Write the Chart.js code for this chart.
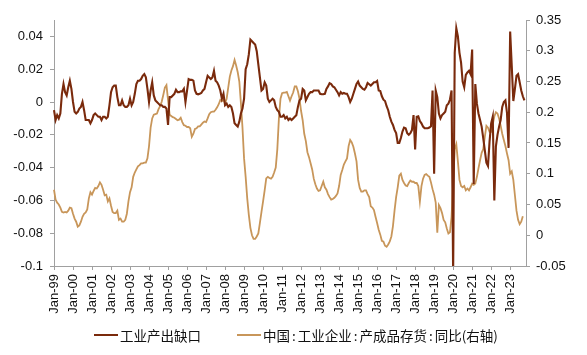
<!DOCTYPE html>
<html><head><meta charset="utf-8">
<script src="https://cdn.jsdelivr.net/npm/chart.js@4"></script>
<style>
html,body{margin:0;padding:0;background:#fff;}
#wrap{position:relative;width:587px;height:355px;overflow:hidden;}
canvas{position:absolute;left:0;top:0;}
.lg{position:absolute;top:327px;height:16px;font:13.5px "Noto Sans CJK SC",sans-serif;color:#111;display:flex;align-items:center;white-space:nowrap;}
.sw{display:inline-block;width:24px;height:2px;margin-right:2px;}
.c{margin:0 2px;}
</style></head>
<body><div id="wrap"><canvas id="c" width="587" height="355"></canvas>
<div class="lg" style="left:94px"><span class="sw" style="background:#7a2a0c"></span>工业产出缺口</div>
<div class="lg" style="left:237px"><span class="sw" style="background:#c8965a"></span>中国<span class="c">:</span>工业企业<span class="c">:</span>产成品存货<span class="c">:</span>同比(右轴)</div>
</div>
<script>
// Output gap (left axis), monthly from Jan-99
const outputGap = [
 -0.005,-0.011,-0.008,-0.01,-0.007,0.005,0.011,0.006,0.004,0.009,0.013,0.008,
 0.0,-0.006,-0.007,-0.006,-0.004,-0.003,0.0,-0.005,-0.011,-0.011,-0.011,-0.013,
 -0.011,-0.008,-0.007,-0.008,-0.009,-0.009,-0.011,-0.009,-0.009,-0.01,-0.009,-0.002,
 0.006,0.009,0.01,0.01,0.003,-0.002,-0.002,0.001,-0.002,-0.003,-0.003,-0.002,
 0.002,-0.002,0.0,0.005,0.011,0.013,0.013,0.014,0.016,0.017,0.015,0.008,
 0.0,0.007,0.012,0.004,0.001,0.0,-0.001,-0.002,-0.002,-0.003,-0.003,-0.004,
 -0.014,0.003,0.003,0.004,0.005,0.0075,0.006,0.006,0.0065,0.0065,0.008,0.0,
 0.007,0.014,0.0135,0.0135,0.013,0.007,0.005,0.0047,0.005,0.0055,0.007,0.008,
 0.012,0.016,0.015,0.014,0.015,0.019,0.013,0.012,0.01,0.007,0.002,0.005,
 -0.002,-0.001,-0.003,-0.002,-0.003,-0.007,-0.013,-0.014,-0.015,-0.012,-0.007,-0.004,
 0.002,0.02,0.023,0.029,0.038,0.037,0.036,0.035,0.031,0.023,0.015,0.007,
 0.008,0.012,0.01,0.002,0.0,0.001,0.002,0.001,-0.003,-0.005,-0.006,-0.009,
 -0.009,-0.008,-0.01,-0.009,-0.011,-0.01,-0.011,-0.01,-0.009,-0.008,-0.003,0.001,
 0.002,0.008,0.007,0.001,0.003,0.005,0.006,0.006,0.007,0.007,0.007,0.007,
 0.005,0.0047,0.0047,0.005,0.008,0.0095,0.0115,0.011,0.0095,0.009,0.0075,0.006,
 0.004,0.006,0.005,0.0055,0.005,0.005,0.003,0.0,0.002,0.005,0.008,0.011,
 0.0125,0.01,0.009,0.008,0.0075,0.009,0.0116,0.0108,0.01,0.011,0.012,0.012,
 0.0128,0.007,0.0067,0.0035,0.0014,0.0006,-0.0026,-0.005,-0.009,-0.012,-0.014,-0.017,
 -0.019,-0.025,-0.025,-0.022,-0.018,-0.0156,-0.016,-0.019,-0.02,-0.019,-0.017,-0.008,
 -0.029,-0.009,-0.0087,-0.0116,-0.013,-0.015,-0.016,-0.016,-0.016,-0.0156,-0.0148,0.007,
 -0.0437,0.007,0.003,-0.007,-0.01,-0.008,-0.007,-0.006,-0.002,-0.001,0.0015,0.007,
 -0.105,0.03,0.045,0.04,0.03,0.024,0.0125,0.009,0.0165,0.018,0.019,0.017,
 0.032,-0.05,0.011,-0.001,-0.007,-0.011,-0.015,-0.022,-0.0295,-0.037,-0.039,-0.024,
 -0.013,-0.009,-0.06,-0.027,-0.02,-0.015,-0.011,-0.003,0.0,0.001,-0.0067,-0.028,
 0.043,0.022,0.0006,0.008,0.016,0.017,0.012,0.007,0.0035,0.001
];
// Finished goods inventory YoY (right axis), monthly from Jan-99
const inventoryYoY = [
 0.074,0.058,0.053,0.05,0.045,0.038,0.037,0.038,0.037,0.04,0.045,0.044,
 0.035,0.027,0.022,0.014,0.016,0.022,0.03,0.035,0.037,0.042,0.06,0.07,
 0.066,0.072,0.077,0.076,0.08,0.086,0.082,0.074,0.065,0.066,0.055,0.06,
 0.048,0.038,0.036,0.036,0.04,0.025,0.027,0.022,0.022,0.025,0.035,0.055,
 0.07,0.078,0.095,0.102,0.107,0.112,0.114,0.117,0.117,0.118,0.118,0.125,
 0.145,0.175,0.19,0.196,0.197,0.198,0.205,0.21,0.217,0.228,0.24,0.244,
 0.22,0.196,0.194,0.192,0.191,0.189,0.187,0.188,0.191,0.184,0.179,0.178,
 0.176,0.176,0.174,0.16,0.165,0.173,0.174,0.177,0.177,0.18,0.183,0.185,
 0.184,0.19,0.197,0.2,0.201,0.201,0.204,0.208,0.213,0.22,0.218,0.22,
 0.215,0.222,0.24,0.258,0.268,0.275,0.285,0.276,0.265,0.25,0.215,0.175,
 0.125,0.095,0.06,0.033,0.012,0.0,-0.006,-0.006,-0.002,0.003,0.02,0.038,
 0.055,0.073,0.0925,0.095,0.093,0.092,0.095,0.102,0.11,0.14,0.19,0.222,
 0.231,0.232,0.232,0.233,0.226,0.219,0.226,0.232,0.242,0.242,0.234,0.222,
 0.202,0.187,0.165,0.153,0.135,0.127,0.117,0.107,0.092,0.083,0.076,0.072,
 0.073,0.08,0.087,0.078,0.074,0.067,0.062,0.058,0.059,0.061,0.064,0.068,
 0.08,0.098,0.106,0.115,0.12,0.125,0.145,0.155,0.151,0.144,0.133,0.12,
 0.09,0.077,0.071,0.071,0.073,0.073,0.067,0.062,0.047,0.045,0.041,0.03,
 0.02,0.009,0.001,-0.009,-0.0104,-0.017,-0.0186,-0.015,-0.01,-0.002,0.015,0.04,
 0.062,0.078,0.097,0.1,0.09,0.085,0.081,0.08,0.085,0.089,0.087,0.087,
 0.085,0.085,0.08,0.055,0.08,0.092,0.098,0.0995,0.097,0.095,0.086,0.075,
 0.066,0.053,0.004,0.049,0.044,0.036,0.025,0.021,0.011,0.003,0.005,0.03,
 0.085,0.14,0.148,0.12,0.09,0.08,0.078,0.08,0.073,0.076,0.073,0.078,
 0.084,0.082,0.084,0.095,0.109,0.122,0.134,0.14,0.16,0.178,0.175,0.168,
 0.168,0.18,0.193,0.2,0.198,0.19,0.178,0.165,0.155,0.145,0.133,0.122,
 0.1,0.104,0.09,0.065,0.04,0.025,0.018,0.022,0.031
];
const leftTicks = [-0.1,-0.08,-0.06,-0.04,-0.02,0,0.02,0.04];
const rightTicks = [-0.05,0,0.05,0.1,0.15,0.2,0.25,0.3,0.35];
const seriesNames = ['工业产出缺口','中国:工业企业:产成品存货:同比(右轴)'];
const monthNames = ['Jan','Feb','Mar','Apr','May','Jun','Jul','Aug','Sep','Oct','Nov','Dec'];
const months = [];
for (let y = 1999; y <= 2023; y++) for (let m = 0; m < 12; m++) {
  if (months.length < 299) months.push(monthNames[m] + '-' + String(y % 100).padStart(2,'0'));
}
const janIdx = months.map((l,i)=>i).filter(i => months[i].startsWith('Jan'));

const axisGray = '#a0a0a0';
const tickFont = {family:'"Liberation Sans", Arial, sans-serif', size:13};
const fmt = v => String(+Number(v).toFixed(2));

new Chart(document.getElementById('c'), {
  type:'line',
  data:{
    labels: months,
    datasets:[
      {label:seriesNames[0], data:outputGap, yAxisID:'y', borderColor:'#7a2a0c', borderWidth:2.1, pointRadius:0, tension:0, fill:false},
      {label:seriesNames[1], data:inventoryYoY, yAxisID:'y1', borderColor:'#c8965a', borderWidth:1.8, pointRadius:0, tension:0, fill:false}
    ]
  },
  options:{
    responsive:false, animation:false, devicePixelRatio:1,
    layout:{padding:{top:20,left:0,right:0,bottom:0}},
    plugins:{legend:{display:false}, tooltip:{enabled:false}},
    scales:{
      x:{
        type:'category', offset:false,
        afterBuildTicks: s => { s.ticks = janIdx.map(i=>({value:i})); },
        afterFit: s => { s.height = 89; },
        grid:{display:true, drawOnChartArea:false, drawTicks:true, tickLength:4, color:axisGray},
        border:{display:true, color:axisGray, width:1},
        ticks:{autoSkip:false, minRotation:90, maxRotation:90, padding:4, color:'#111', font:tickFont,
          callback:(v)=>months[v]}
      },
      y:{
        position:'left', min:-0.1, max:0.05,
        afterBuildTicks: s => { s.ticks = leftTicks.map(v=>({value:v})); },
        afterFit: s => { s.width = 54; },
        grid:{drawOnChartArea:false, drawTicks:true, tickLength:4, color:axisGray},
        border:{display:true, color:axisGray, width:1},
        ticks:{padding:7, color:'#111', font:tickFont, callback:fmt}
      },
      y1:{
        position:'right', min:-0.05, max:0.35,
        afterBuildTicks: s => { s.ticks = rightTicks.map(v=>({value:v})); },
        afterFit: s => { s.width = 61; },
        grid:{drawOnChartArea:false, drawTicks:true, tickLength:4, color:axisGray},
        border:{display:true, color:axisGray, width:1},
        ticks:{padding:6, color:'#111', font:tickFont, callback:fmt}
      }
    }
  }
});
</script>
</body></html>
